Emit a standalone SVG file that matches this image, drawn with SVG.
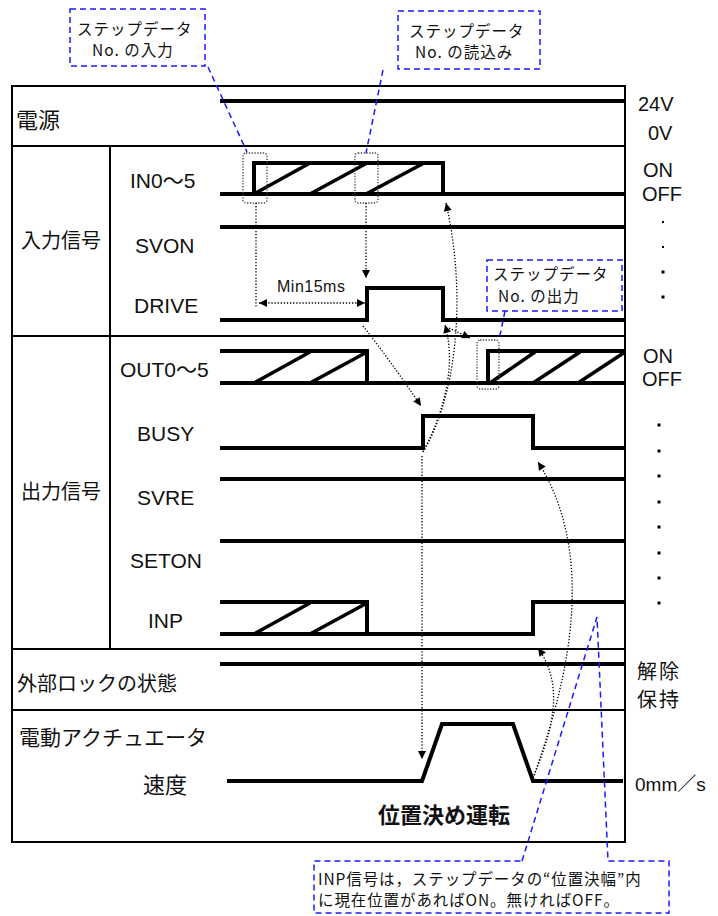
<svg xmlns="http://www.w3.org/2000/svg" width="718" height="916" viewBox="0 0 718 916">
<style>
.frame{stroke:#000;stroke-width:2;fill:none}
.sig{stroke:#000;stroke-width:4;fill:none;stroke-linejoin:miter}
.hat{stroke:#000;stroke-width:3.6;fill:none}
.dot{stroke:#000;stroke-width:1.3;stroke-dasharray:1.3 1.8;fill:none}
.dbox{stroke:#444;stroke-width:1.3;stroke-dasharray:1.3 1.5;fill:none}
.blue{stroke:#1a1aff;stroke-width:1.5;stroke-dasharray:6 4;fill:none}
.jp{font-family:"Noto Sans CJK JP","Liberation Sans",sans-serif;fill:#111}
.lat{font-family:"Liberation Sans","Noto Sans CJK JP",sans-serif;fill:#111}
.co{font-size:15.5px;letter-spacing:1px}
</style>
<defs>
<marker id="ah" viewBox="0 0 10 10" refX="10" refY="5" markerWidth="9" markerHeight="8" markerUnits="userSpaceOnUse" orient="auto-start-reverse">
<path d="M0,0 L10,5 L0,10 Z" fill="#000"/>
</marker>
</defs>
<rect width="718" height="916" fill="#fff"/>

<g id="frame">
<rect class="frame" x="12" y="86" width="613" height="756"/>
<line class="frame" x1="12" y1="146" x2="625" y2="146"/>
<line class="frame" x1="12" y1="336" x2="625" y2="336"/>
<line class="frame" x1="12" y1="649" x2="625" y2="649"/>
<line class="frame" x1="12" y1="710" x2="625" y2="710"/>
<line class="frame" x1="110" y1="146" x2="110" y2="649"/>
</g>

<g id="power">
<text class="jp" x="16" y="128" font-size="22">電源</text>
<path class="sig" d="M220 101 H625"/>
<text class="lat" x="638" y="111" font-size="20">24V</text>
<text class="lat" x="648" y="140" font-size="20">0V</text>
</g>

<g id="input-group">
<text class="jp" x="21" y="248" font-size="20">入力信号</text>
</g>

<g id="in05">
<text class="lat" x="130" y="188" font-size="21">IN0～5</text>
<path class="sig" d="M220 194 H625"/>
<path class="sig" d="M254 196 V163 H443 V194"/>
<path class="hat" d="M254 194 L310 163 M310 194 L367 163 M366 194 L424 163"/>
<text class="lat" x="643" y="177" font-size="20">ON</text>
<text class="lat" x="642" y="201" font-size="20">OFF</text>
<rect x="662" y="221" width="2" height="2" fill="#000"/>
<rect x="662" y="246" width="2" height="2" fill="#000"/>
<rect x="661.5" y="270.5" width="3" height="3" fill="#000"/>
<rect x="661.5" y="295.5" width="3" height="3" fill="#000"/>
</g>

<g id="svon">
<text class="lat" x="135" y="253" font-size="21">SVON</text>
<path class="sig" d="M220 227 H625"/>
</g>

<g id="drive">
<text class="lat" x="134" y="313" font-size="21">DRIVE</text>
<path class="sig" d="M220 320 H367 V288 H443 V320 H625"/>
</g>

<g id="output-group">
<text class="jp" x="21" y="499" font-size="20">出力信号</text>
</g>

<g id="out05">
<text class="lat" x="120" y="377" font-size="21">OUT0～5</text>
<path class="sig" d="M220 383 H625"/>
<path class="sig" d="M220 351 H367 V383"/>
<path class="hat" d="M254 383 L310 352 M310 383 L367 352"/>
<path class="sig" d="M488 385 V351 H625"/>
<path class="hat" d="M490 383 L535 352 M533 383 L580 352 M578 383 L625 352"/>
<text class="lat" x="643" y="363" font-size="20">ON</text>
<text class="lat" x="642" y="386" font-size="20">OFF</text>
<g fill="#000">
<rect x="657.5" y="423.5" width="3" height="3"/>
<rect x="657.5" y="449.5" width="3" height="3"/>
<rect x="657.5" y="474.5" width="3" height="3"/>
<rect x="657.5" y="500.5" width="3" height="3"/>
<rect x="657.5" y="525.5" width="3" height="3"/>
<rect x="657.5" y="551.5" width="3" height="3"/>
<rect x="657.5" y="576.5" width="3" height="3"/>
<rect x="657.5" y="601.5" width="3" height="3"/>
</g>
</g>

<g id="busy">
<text class="lat" x="137" y="441" font-size="21">BUSY</text>
<path class="sig" d="M220 448 H423 V416 H533 V448 H625"/>
</g>

<g id="svre">
<text class="lat" x="137" y="505" font-size="21">SVRE</text>
<path class="sig" d="M220 479 H625"/>
</g>

<g id="seton">
<text class="lat" x="130" y="568" font-size="21">SETON</text>
<path class="sig" d="M220 541 H625"/>
</g>

<g id="inp">
<text class="lat" x="148" y="628" font-size="21">INP</text>
<path class="sig" d="M220 602 H367 V634"/>
<path class="sig" d="M220 634 H533 V602 H625"/>
<path class="hat" d="M254 634 L310 603 M310 634 L367 603"/>
</g>

<g id="lock">
<text class="jp" x="17" y="691" font-size="20">外部ロックの状態</text>
<path class="sig" d="M220 664 H625"/>
<text class="jp" x="637" y="679" font-size="20" letter-spacing="2">解除</text>
<text class="jp" x="637" y="707" font-size="20" letter-spacing="2">保持</text>
</g>

<g id="actuator">
<text class="jp" x="19" y="745" font-size="21">電動アクチュエータ</text>
<text class="jp" x="143" y="793" font-size="22">速度</text>
<path class="sig" d="M227 781 H422 L442 724 H513 L533 781 H623"/>
<text class="lat" x="635" y="791" font-size="19">0mm／s</text>
<text class="jp" x="378" y="823" font-size="22" font-weight="bold">位置決め運転</text>
</g>

<g id="callout-input">
<rect class="blue" x="70" y="9" width="135" height="57"/>
<text class="jp co" x="77" y="35">ステップデータ</text>
<text class="jp co" x="92" y="56">No. の入力</text>
</g>

<g id="callout-read">
<rect class="blue" x="398" y="11" width="142" height="58"/>
<text class="jp co" x="409" y="37">ステップデータ</text>
<text class="jp co" x="415" y="58">No. の読込み</text>
</g>

<g id="callout-output">
<rect class="blue" x="487" y="260" width="135" height="51"/>
<text class="jp co" x="493" y="280">ステップデータ</text>
<text class="jp co" x="498" y="302">No. の出力</text>
</g>

<g id="callout-inp">
<path class="blue" d="M522 861 L597 617 L608 861 H669 V913 H314 V861 Z"/>
<text class="jp" x="318" y="885" font-size="15.5" letter-spacing="0.9">INP信号は，ステップデータの“位置決幅”内</text>
<text class="jp" x="318" y="906" font-size="15.5" letter-spacing="0.9">に現在位置があればON。無ければOFF。</text>
</g>

<g id="marks">
<rect class="dbox" x="243" y="153" width="24" height="50" rx="3"/>
<rect class="dbox" x="355" y="153" width="23" height="50" rx="3"/>
<rect class="dbox" x="477" y="340" width="22" height="49" rx="3"/>
<text class="lat" x="277" y="292" font-size="16" letter-spacing="0.5">Min15ms</text>
</g>

<g id="connectors">
<path class="blue" d="M208 67 L247 152"/>
<path class="blue" d="M383 70 L366 153"/>
<path class="blue" d="M505 311 L499 340"/>
<path class="dot" d="M256 203 V308"/>
<path class="dot" d="M259 303 H365" marker-start="url(#ah)" marker-end="url(#ah)"/>
<path class="dot" d="M366 203 V278" marker-end="url(#ah)"/>
<path class="dot" d="M363 326 Q390 360 421 406" marker-end="url(#ah)"/>
<path class="dot" d="M423 452 C455 400 468 300 446 203" marker-end="url(#ah)"/>
<path class="dot" d="M423 452 C440 420 458 370 445 325" marker-end="url(#ah)"/>
<path class="dot" d="M449 328 L470 338" marker-end="url(#ah)"/>
<path class="dot" d="M422 456 V759" marker-end="url(#ah)"/>
<path class="dot" d="M533 778 C565 690 600 560 538 462" marker-end="url(#ah)"/>
<path class="dot" d="M533 778 C548 740 568 690 538 648" marker-end="url(#ah)"/>
</g>
</svg>
